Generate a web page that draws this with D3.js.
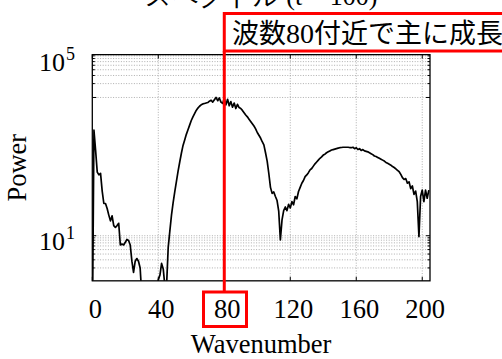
<!DOCTYPE html>
<html>
<head>
<meta charset="utf-8">
<script src="https://cdn.jsdelivr.net/npm/d3@7"></script>
<style>
html,body{margin:0;padding:0;background:#fff;}
svg{display:block;}
</style>
</head>
<body>
<svg id="chart" width="502" height="359"></svg>
<script>
// ---- data ----
const wavenumbers = [];
for (let k = 0; k <= 204; k++) wavenumbers.push(k);
const power = [
  0.05, 1950, 710, 240, 210, 225, 93, 50, 50, 39,
  28, 21, 27, 16.6, 15.1, 16.6, 18.6, 6.3, 6.6, 6.3,
  7.2, 8.3, 7.9, 6.3, 2.8, 1.6, 2.8, 3.2, 2.8, 2.0,
  0.5, 0.3, 0.6, 0.4, 0.7, 0.5, 0.3, 0.6, 0.5, 0.8,
  1.1, 1.4, 2.5, 1.9, 0.8, 0.8, 5.5, 12.6, 28, 52,
  91, 151, 251, 398, 617, 912, 1200, 1585, 1995, 2512,
  3162, 3800, 4467, 5248, 5888, 6457, 6918, 7244, 7413, 7586,
  7762, 8318, 8710, 7943, 8913, 10000, 8511, 9772, 7943, 7413,
  9550, 6918, 9120, 6607, 8128, 6166, 7586, 5754, 7079, 6026,
  5754, 5248, 4677, 4169, 3802, 3388, 3020, 2692, 2399, 2089,
  1738, 1514, 1318, 1096, 933, 631, 417, 224, 112, 83,
  89, 71, 58, 34, 8.1, 22, 35, 42, 35, 48,
  40, 55, 47, 71, 63, 91, 112, 138, 158, 191,
  209, 234, 269, 288, 324, 363, 398, 437, 479, 513,
  562, 589, 631, 661, 692, 724, 741, 759, 776, 794,
  813, 822, 832, 832, 832, 832, 820, 813, 832, 776,
  813, 741, 776, 708, 741, 692, 676, 661, 631, 603,
  575, 537, 525, 501, 479, 457, 437, 417, 389, 372,
  355, 339, 316, 302, 282, 263, 245, 214, 182, 166,
  174, 138, 148, 105, 120, 79, 93, 55, 9.5, 71,
  98, 55, 98, 65, 98
];
const xTicks = [0, 40, 80, 120, 160, 200];
const yTickLabels = [{v: 10, exp: "1"}, {v: 1e5, exp: "5"}];
const yGridValues = [2,3,4,5,6,7,8,9,10, 10000,20000,30000,40000,50000,60000,70000,80000];
const xLim = [0, 204.7];
const yLim = [1.05, 85000];
const titleText = "スペクトル (t = 100)";
const noteText = ["波数", "80", "付近で主に成長"];
const highlightX = 80;
const xLabel = "Wavenumber";
const yLabel = "Power";

// ---- layout ----
const svg = d3.select("#chart");
const x = d3.scaleLinear().domain(xLim).range([92.3, 430]);
const y = d3.scaleLog().domain([1, 1e5]).range([281.8, 51.4]);
const L = x(xLim[0]), R = x(xLim[1]), T = y(yLim[1]), B = y(yLim[0]);
const serif = "'Liberation Serif','Times New Roman',serif";
const cjk = "'Noto Sans CJK JP','Noto Sans CJK SC',sans-serif";

svg.append("defs").append("clipPath").attr("id","clip")
  .append("rect").attr("x",L).attr("y",T).attr("width",R-L).attr("height",B-T);

// grid
const grid = svg.append("g").attr("stroke","#9a9a9a").attr("stroke-width",0.8)
  .attr("stroke-dasharray","1,1.6").attr("fill","none");
xTicks.filter(t => t > 0).forEach(t => {
  grid.append("line").attr("x1",x(t)).attr("x2",x(t)).attr("y1",T).attr("y2",B);
});
yGridValues.forEach(v => {
  grid.append("line").attr("x1",L).attr("x2",R).attr("y1",y(v)).attr("y2",y(v));
});

// curve
const line = d3.line().x((d,i) => x(wavenumbers[i])).y(d => y(d));
svg.append("path").datum(power).attr("clip-path","url(#clip)")
  .attr("d", line).attr("fill","none").attr("stroke","#000")
  .attr("stroke-width",1.7).attr("stroke-linejoin","round");

// ticks (inside)
const tk = svg.append("g").attr("stroke","#000").attr("stroke-width",1);
xTicks.forEach(t => {
  tk.append("line").attr("x1",x(t)).attr("x2",x(t)).attr("y1",B).attr("y2",B-4);
  tk.append("line").attr("x1",x(t)).attr("x2",x(t)).attr("y1",T).attr("y2",T+4);
});
yGridValues.forEach(v => {
  const len = (v === 10 || v === 10000) ? 4 : 2.5;
  tk.append("line").attr("x1",L).attr("x2",L+len).attr("y1",y(v)).attr("y2",y(v));
  tk.append("line").attr("x1",R).attr("x2",R-len).attr("y1",y(v)).attr("y2",y(v));
});

// box
svg.append("rect").attr("x",L).attr("y",T).attr("width",R-L).attr("height",B-T)
  .attr("fill","none").attr("stroke","#000").attr("stroke-width",1.3);

// x tick labels
svg.append("g").selectAll("text").data(xTicks).join("text")
  .attr("x", d => x(d) + 3).attr("y", 318)
  .attr("text-anchor","middle").attr("font-family",serif).attr("font-size",26.5)
  .attr("fill","#000").text(d => d);

// y tick labels
yTickLabels.forEach(d => {
  const yy = Math.max(y(d.v), T) + (d.v === 1e5 ? 16 : 14);
  svg.append("text").attr("x", 65).attr("y", yy)
    .attr("text-anchor","end").attr("font-family",serif).attr("font-size",26)
    .attr("fill","#000").text("10");
  svg.append("text").attr("x", 66).attr("y", yy - 11)
    .attr("font-family",serif).attr("font-size",18).attr("fill","#000").text(d.exp);
});

// axis labels
svg.append("text").attr("x", (L+R)/2).attr("y", 353)
  .attr("text-anchor","middle").attr("font-family",serif).attr("font-size",26.5)
  .attr("fill","#000").text(xLabel);
svg.append("text").attr("transform", `translate(26,${(T+B)/2}) rotate(-90)`)
  .attr("text-anchor","middle").attr("font-family",serif).attr("font-size",26.5)
  .attr("fill","#000").text(yLabel);

// title (mostly cut off at the top edge, as in the reference)
svg.append("text").attr("x", (L+R)/2).attr("y", 5)
  .attr("text-anchor","middle").attr("font-family",serif).attr("font-size",26)
  .attr("fill","#000").text(titleText);

// annotation
const red = "#ff0000";
const ann = svg.append("g");
ann.append("rect").attr("x", x(highlightX)).attr("y", 13.5).attr("width", 300).attr("height", 37.5)
  .attr("fill","#fff").attr("stroke",red).attr("stroke-width",3);
const nt = ann.append("text").attr("x", 232).attr("y", 43).attr("font-size",27)
  .attr("font-family",cjk).attr("fill","#000");
nt.append("tspan").text(noteText[0]);
nt.append("tspan").attr("font-family",serif).attr("font-size",28).text(noteText[1]);
nt.append("tspan").text(noteText[2]);
ann.append("line").attr("x1",x(highlightX)).attr("x2",x(highlightX)).attr("y1",51).attr("y2",292)
  .attr("stroke",red).attr("stroke-width",3);
ann.append("rect").attr("x", 203.5).attr("y", 292).attr("width", 43).attr("height", 34.5)
  .attr("fill","none").attr("stroke",red).attr("stroke-width",3);
</script>
</body>
</html>
